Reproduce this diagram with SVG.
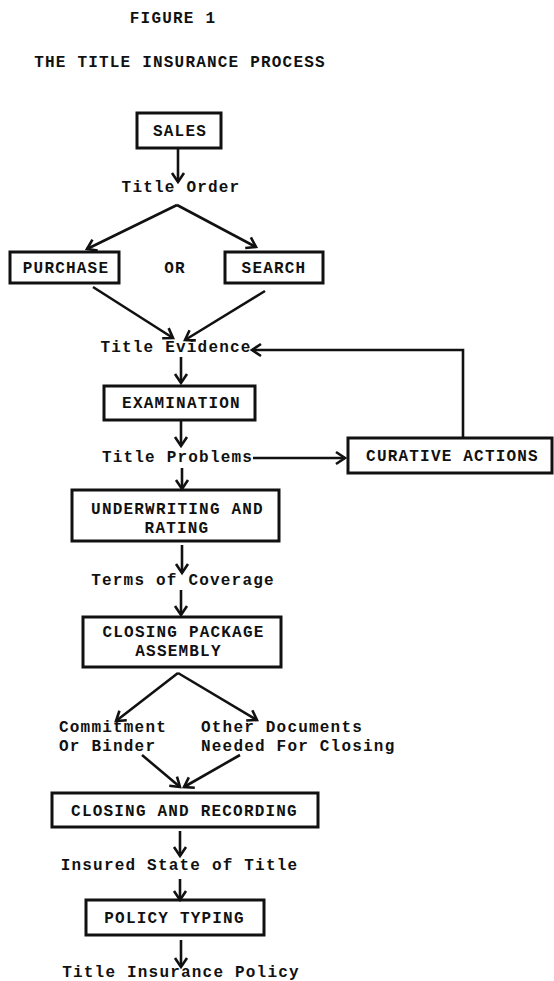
<svg xmlns="http://www.w3.org/2000/svg" width="554" height="981" viewBox="0 0 554 981">
<style>
  text { font-family: "Liberation Mono", "Courier New", monospace; font-size: 16px; font-weight: bold; fill: #111; letter-spacing: 1.2px; }
  .c { text-anchor: middle; }
  .box { fill: none; stroke: #111; stroke-width: 3; }
  .con { fill: none; stroke: #111; stroke-width: 2.6; marker-end: url(#ah); }
</style>
<defs>
  <marker id="ah" markerUnits="userSpaceOnUse" markerWidth="24" markerHeight="24" viewBox="-12 -12 24 24" refX="0" refY="0" orient="auto" overflow="visible">
    <path d="M-9,-6 L0,0 L-9,6" fill="none" stroke="#111" stroke-width="2.6" stroke-linejoin="miter"/>
  </marker>
</defs>
<rect width="554" height="981" fill="#fff"/>

<g id="title">
  <text class="c" x="173" y="23">FIGURE 1</text>
  <text class="c" x="180" y="67">THE TITLE INSURANCE PROCESS</text>
</g>

<g id="connectors">
  <line class="con" x1="178" y1="149" x2="178" y2="182"/>
  <line class="con" x1="177" y1="205" x2="87" y2="249"/>
  <line class="con" x1="177" y1="205" x2="256" y2="247"/>
  <line class="con" x1="93" y1="287" x2="173" y2="338"/>
  <line class="con" x1="265" y1="291" x2="185" y2="340"/>
  <polyline class="con" points="463,437 463,350 252,350"/>
  <line class="con" x1="181" y1="357" x2="181" y2="383"/>
  <line class="con" x1="181" y1="421" x2="181" y2="446"/>
  <line class="con" x1="253" y1="458" x2="345" y2="458"/>
  <line class="con" x1="182" y1="468" x2="182" y2="489"/>
  <line class="con" x1="182" y1="545" x2="182" y2="573"/>
  <line class="con" x1="181" y1="590" x2="181" y2="615"/>
  <line class="con" x1="178" y1="673" x2="116" y2="721"/>
  <line class="con" x1="178" y1="673" x2="257" y2="720"/>
  <line class="con" x1="142" y1="755" x2="180" y2="787"/>
  <line class="con" x1="240" y1="755" x2="184" y2="787"/>
  <line class="con" x1="180" y1="831" x2="180" y2="856"/>
  <line class="con" x1="180" y1="879" x2="180" y2="900"/>
  <line class="con" x1="181" y1="940" x2="181" y2="967"/>
</g>

<g id="sales"><rect class="box" x="137" y="113" width="84" height="35"/><text class="c" x="180" y="136">SALES</text></g>
<g id="title-order"><text class="c" x="181" y="192">Title Order</text></g>
<g id="purchase"><rect class="box" x="10" y="252" width="109" height="31"/><text class="c" x="66" y="273">PURCHASE</text></g>
<g id="or"><text class="c" x="175" y="273">OR</text></g>
<g id="search"><rect class="box" x="225" y="252" width="98" height="31"/><text class="c" x="274" y="273">SEARCH</text></g>
<g id="title-evidence"><text class="c" x="176" y="352">Title Evidence</text></g>
<g id="examination"><rect class="box" x="104" y="386" width="151" height="34"/><text class="c" x="181.5" y="408">EXAMINATION</text></g>
<g id="title-problems"><text class="c" x="177.5" y="462">Title Problems</text></g>
<g id="curative"><rect class="box" x="348" y="438" width="204" height="35"/><text class="c" x="452.5" y="461">CURATIVE ACTIONS</text></g>
<g id="underwriting"><rect class="box" x="72" y="490" width="207" height="51"/><text class="c" x="177.5" y="514">UNDERWRITING AND</text><text class="c" x="177" y="532.5">RATING</text></g>
<g id="terms"><text class="c" x="183" y="585">Terms of Coverage</text></g>
<g id="closing-package"><rect class="box" x="83" y="617" width="198" height="50"/><text class="c" x="183.5" y="637">CLOSING PACKAGE</text><text class="c" x="178.5" y="655.5">ASSEMBLY</text></g>
<g id="commitment"><text x="59" y="732">Commitment</text><text x="59" y="750.5">Or Binder</text></g>
<g id="other-docs"><text x="201" y="732">Other Documents</text><text x="201" y="750.5">Needed For Closing</text></g>
<g id="closing-recording"><rect class="box" x="52" y="793" width="266" height="34"/><text class="c" x="184.5" y="816">CLOSING AND RECORDING</text></g>
<g id="insured-state"><text class="c" x="179.5" y="870">Insured State of Title</text></g>
<g id="policy-typing"><rect class="box" x="86" y="900" width="178" height="35"/><text class="c" x="174.5" y="923">POLICY TYPING</text></g>
<g id="title-policy"><text class="c" x="181" y="977">Title Insurance Policy</text></g>
</svg>
